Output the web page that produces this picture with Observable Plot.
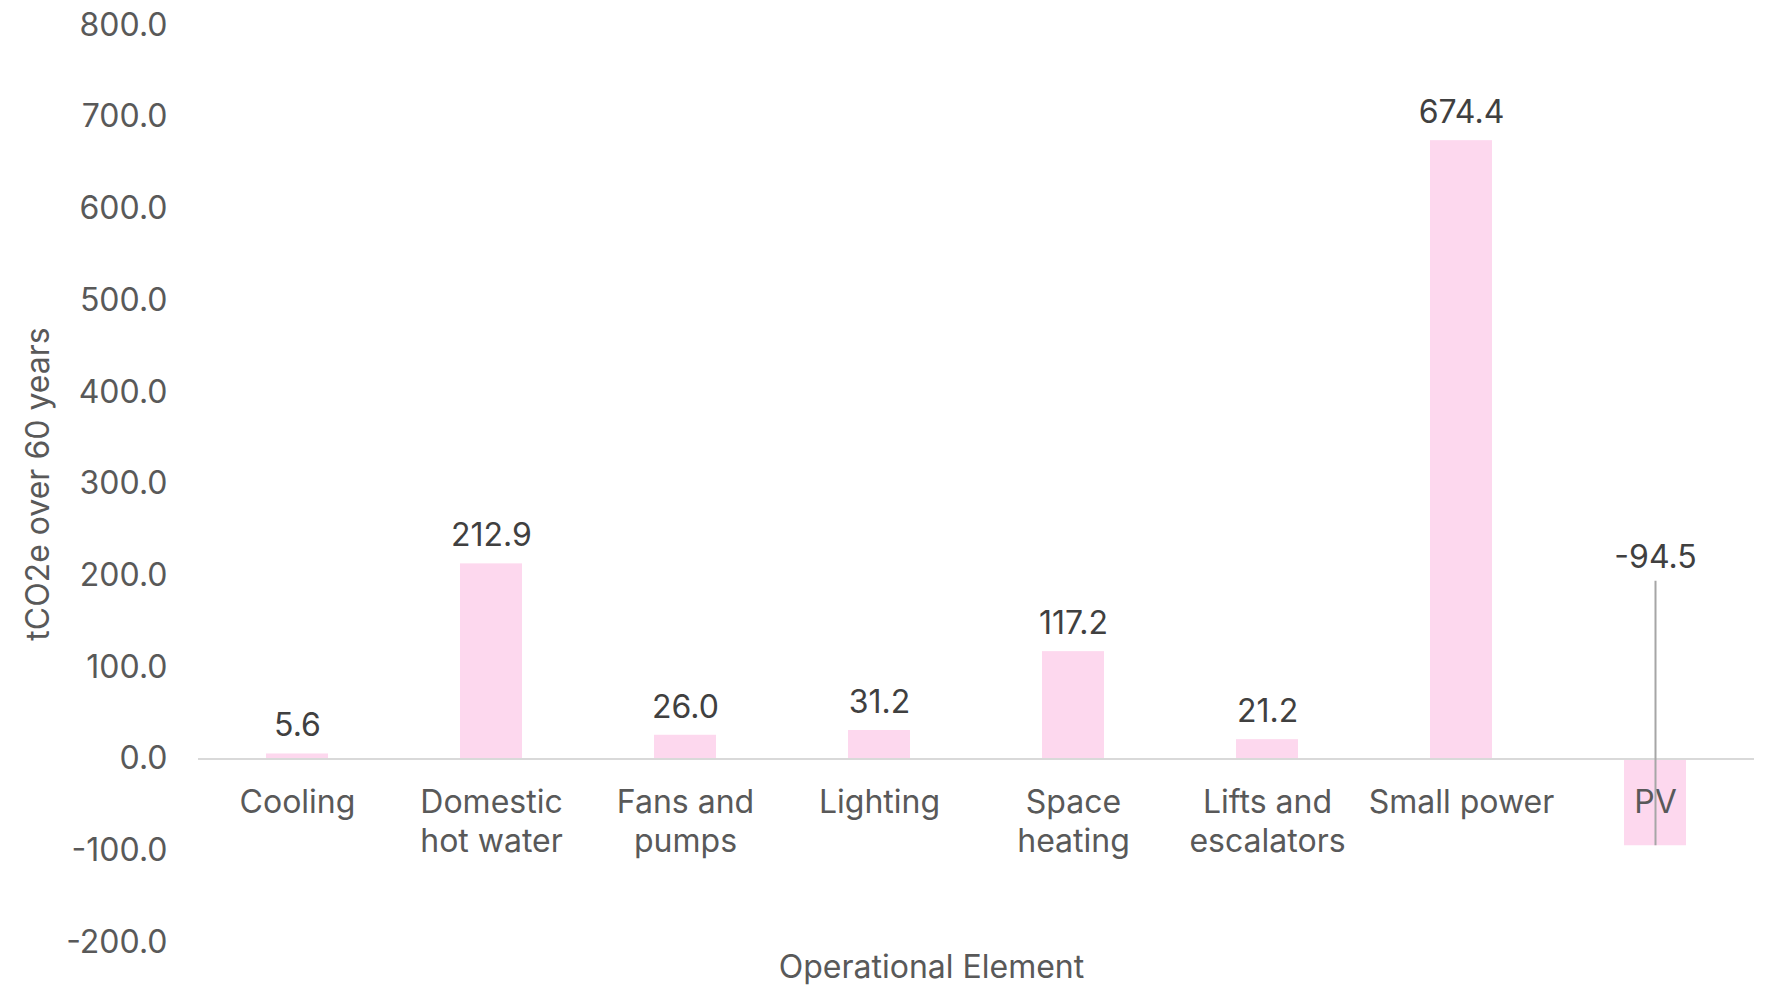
<!DOCTYPE html>
<html>
<head>
<meta charset="utf-8">
<script src="https://cdn.jsdelivr.net/npm/d3@7"></script>
<script src="https://cdn.jsdelivr.net/npm/@observablehq/plot@0.6"></script>
<style>
  html, body { margin: 0; padding: 0; background: #fff; }
  #chart { width: 1766px; height: 985px; }
  svg text { font-family: Inter, "Noto Sans", sans-serif; }
</style>
</head>
<body>
<div id="chart"></div>
<script>
const categories = ["Cooling", "Domestic hot water", "Fans and pumps", "Lighting", "Space heating", "Lifts and escalators", "Small power", "PV"];
const tickLabels = ["Cooling", "Domestic\nhot water", "Fans and\npumps", "Lighting", "Space\nheating", "Lifts and\nescalators", "Small power", "PV"];
const values = [5.6, 212.9, 26.0, 31.2, 117.2, 21.2, 674.4, -94.5];
const errorLow = [null, null, null, null, null, null, null, -94.5];
const errorHigh = [null, null, null, null, null, null, null, 194];
const yTicks = [-200, -100, 0, 100, 200, 300, 400, 500, 600, 700, 800];
const yTitle = "tCO2e over 60 years";
const xTitle = "Operational Element";

const data = categories.map((c, i) => ({
  cat: c, label: tickLabels[i], value: values[i],
  lo: errorLow[i], hi: errorHigh[i],
  anchor: errorHigh[i] != null ? errorHigh[i] : values[i],
  isErr: errorHigh[i] != null
}));
const errs = data.filter(d => d.lo != null);

const chart = Plot.plot({
  width: 1766,
  height: 985,
  marginLeft: 198,
  marginRight: 12,
  marginTop: 25,
  marginBottom: 43,
  style: { fontFamily: "Inter, 'Noto Sans', sans-serif", background: "#fff", fontVariant: "normal" },
  x: { domain: categories, paddingInner: 0.68, paddingOuter: 0.34, axis: null },
  y: { domain: [-200, 800] },
  marks: [
    Plot.axisY({
      ticks: yTicks, tickFormat: d => d.toFixed(1), tickSize: 0, tickPadding: 31,
      fontSize: 32, color: "#595959", fontVariant: "normal",
      label: yTitle, labelAnchor: "center", labelArrow: "none", labelOffset: 172
    }),
    Plot.barY(data, { x: "cat", y: "value", fill: "#fdd8ee" }),
    Plot.ruleY([0], { stroke: "#d9d9d9", strokeWidth: 2 }),
    Plot.text(data, {
      x: "cat", y: 0, text: "label", dy: 27, lineAnchor: "top",
      fontSize: 32, fill: "#595959", lineHeight: 1.2
    }),
    Plot.ruleX(errs, { x: "cat", y1: "lo", y2: "hi", stroke: "#a6a6a6", strokeWidth: 2 }),
    Plot.text(data.filter(d => !d.isErr), {
      x: "cat", y: "anchor", text: d => d.value.toFixed(1), dy: -28,
      fontSize: 32, fill: "#404040"
    }),
    Plot.text(errs, {
      x: "cat", y: "anchor", text: d => d.value.toFixed(1), dy: -23,
      fontSize: 32, fill: "#404040"
    }),
    Plot.text([xTitle], { frameAnchor: "bottom", text: d => d, dx: -45, dy: 35, fontSize: 32, fill: "#595959" })
  ]
});
document.getElementById("chart").appendChild(chart);
</script>
</body>
</html>
